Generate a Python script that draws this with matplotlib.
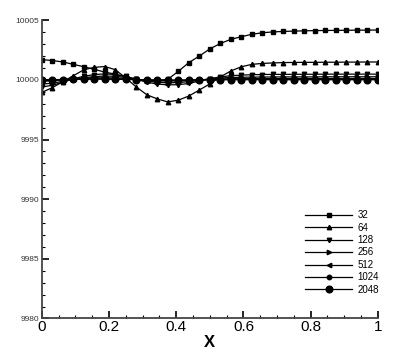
import numpy as np
import matplotlib
matplotlib.use("Agg")
import matplotlib.pyplot as plt
from matplotlib.ticker import MultipleLocator, FixedLocator

plt.rcParams['font.family'] = ['Liberation Sans', 'DejaVu Sans']

x = np.linspace(0.0, 1.0, 33)

s32 = [10001.70, 10001.62, 10001.50, 10001.30, 10001.10, 10000.88, 10000.65, 10000.48,
       10000.22, 10000.05, 9999.95, 9999.92, 10000.05, 10000.72, 10001.45, 10002.00,
       10002.60, 10003.05, 10003.40, 10003.62, 10003.82, 10003.95, 10004.02, 10004.06,
       10004.09, 10004.11, 10004.13, 10004.14, 10004.15, 10004.16, 10004.17, 10004.17, 10004.18]
s64 = [9998.95, 9999.35, 9999.85, 10000.35, 10000.85, 10001.05, 10001.12, 10000.85,
       10000.15, 9999.40, 9998.75, 9998.40, 9998.15, 9998.30, 9998.65, 9999.15,
       9999.67, 10000.25, 10000.75, 10001.10, 10001.30, 10001.38, 10001.42, 10001.45,
       10001.46, 10001.47, 10001.47, 10001.48, 10001.48, 10001.49, 10001.49, 10001.50, 10001.50]
s128 = [9999.40, 9999.55, 9999.80, 10000.10, 10000.30, 10000.45, 10000.50, 10000.45,
        10000.30, 10000.05, 9999.80, 9999.65, 9999.58, 9999.60, 9999.70, 9999.90,
        10000.10, 10000.25, 10000.35, 10000.40, 10000.43, 10000.45, 10000.46, 10000.46,
        10000.47, 10000.47, 10000.47, 10000.48, 10000.48, 10000.48, 10000.48, 10000.48, 10000.48]
s256 = [9999.65, 9999.72, 9999.88, 10000.05, 10000.18, 10000.28, 10000.32, 10000.30,
        10000.20, 10000.05, 9999.90, 9999.80, 9999.75, 9999.78, 9999.85, 9999.97,
        10000.08, 10000.16, 10000.20, 10000.22, 10000.23, 10000.24, 10000.24, 10000.25,
        10000.25, 10000.25, 10000.25, 10000.26, 10000.26, 10000.26, 10000.26, 10000.26, 10000.26]
s512 = [9999.88, 9999.92, 10000.00, 10000.08, 10000.14, 10000.17, 10000.18, 10000.16,
        10000.12, 10000.04, 9999.97, 9999.92, 9999.90, 9999.92, 9999.95, 10000.00,
        10000.05, 10000.08, 10000.10, 10000.10, 10000.11, 10000.11, 10000.11, 10000.11,
        10000.11, 10000.11, 10000.11, 10000.11, 10000.11, 10000.11, 10000.11, 10000.11, 10000.11]
s1024 = [9999.98, 10000.00, 10000.03, 10000.06, 10000.08, 10000.09, 10000.09, 10000.08,
         10000.06, 10000.02, 9999.99, 9999.97, 9999.96, 9999.97, 9999.98, 10000.00,
         10000.02, 10000.03, 10000.04, 10000.04, 10000.05, 10000.05, 10000.05, 10000.05,
         10000.05, 10000.05, 10000.05, 10000.05, 10000.05, 10000.05, 10000.05, 10000.05, 10000.05]
s2048 = [10000.02, 10000.02, 10000.03, 10000.04, 10000.05, 10000.06, 10000.06, 10000.05,
         10000.04, 10000.02, 10000.00, 9999.99, 9999.98, 9999.98, 9999.99, 10000.00,
         10000.01, 10000.01, 10000.01, 10000.01, 10000.01, 10000.01, 10000.01, 10000.01,
         10000.01, 10000.01, 10000.01, 10000.01, 10000.01, 10000.01, 10000.01, 10000.01, 10000.01]

labels = ['32', '64', '128', '256', '512', '1024', '2048']
series = [s32, s64, s128, s256, s512, s1024, s2048]
markers = ['s', '^', 'v', '>', '<', 'o', 'o']
msizes = [3.0, 3.2, 3.2, 3.2, 3.2, 3.2, 4.8]

xticks = [0, 0.2, 0.4, 0.6, 0.8, 1.0]
xticklabels = ['0', '0.2', '0.4', '0.6', '0.8', '1']
yticks = [9980, 9985, 9990, 9995, 10000, 10005]
yticklabels = ['9980', '9985', '9990', '9995', '10000', '10005']

fig = plt.figure(figsize=(3.99, 3.55), dpi=100)
ax = fig.add_axes([0.105, 0.103, 0.842, 0.840])

for s, lab, m, ms in zip(series, labels, markers, msizes):
    ax.plot(x, s, color='black', lw=0.9, marker=m, ms=ms, mec='black', mfc='black', label=lab)

ax.set_xlim(0, 1)
ax.set_ylim(9980, 10005)
ax.xaxis.set_major_locator(FixedLocator(xticks))
ax.set_xticklabels(xticklabels, fontsize=11)
ax.xaxis.set_minor_locator(MultipleLocator(0.05))
ax.yaxis.set_major_locator(FixedLocator(yticks))
ax.set_yticklabels(yticklabels, fontsize=6, color='#333333')
ax.yaxis.set_minor_locator(MultipleLocator(1))
ax.tick_params(which='major', direction='in', length=5, width=1.2, pad=2)
ax.tick_params(which='minor', direction='in', length=2.5, width=0.8)
ax.tick_params(axis='x', which='major', pad=1)
for side in ['top', 'right']:
    ax.spines[side].set_visible(False)
for side in ['left', 'bottom']:
    ax.spines[side].set_linewidth(1.3)
    ax.spines[side].set_color('#444444')

ax.set_xlabel('X', fontsize=12, fontweight='bold', labelpad=1)

leg = ax.legend(loc='lower right', bbox_to_anchor=(1.03, 0.05), frameon=False,
                fontsize=7, handlelength=4.8, labelspacing=0.25, handletextpad=0.6)

fig.savefig('out.png', dpi=100)
